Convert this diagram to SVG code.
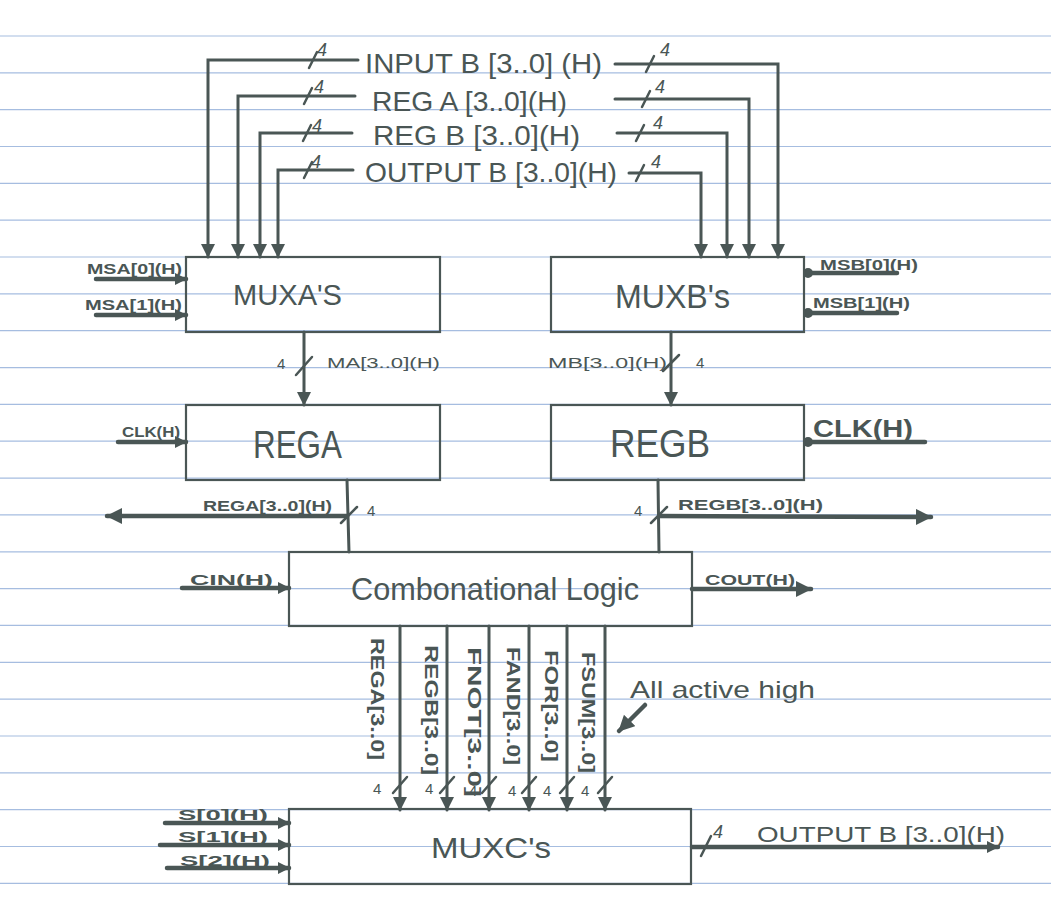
<svg xmlns="http://www.w3.org/2000/svg" width="1051" height="917" viewBox="0 0 1051 917">
<style>
.rule{stroke:#a6bde0;stroke-width:1.2}
.box{fill:none;stroke:#4a5655;stroke-width:2.2}
.w{fill:none;stroke:#4a5655;stroke-width:3;stroke-linecap:round;stroke-linejoin:miter}
.wt{fill:none;stroke:#4a5655;stroke-width:4.5;stroke-linecap:round}
.tick{stroke:#4a5655;stroke-width:2.5;stroke-linecap:round}
text{font-family:"Liberation Sans","DejaVu Sans",sans-serif;fill:#4a5655}
.lg{font-size:28px}
.sm{font-size:15px;font-weight:bold}
.n{font-size:15px}
.n4{font-size:18px;font-style:italic}
.vl{font-size:18px;font-weight:bold}
</style>
<defs>
<marker id="ah" markerUnits="userSpaceOnUse" markerWidth="16" markerHeight="16" refX="13" refY="7" orient="auto">
<path d="M0,0 L14,7 L0,14 z" fill="#4a5655"/>
</marker>
<marker id="ahs" markerUnits="userSpaceOnUse" markerWidth="14" markerHeight="14" refX="11" refY="6" orient="auto">
<path d="M0,0 L12,6 L0,12 z" fill="#4a5655"/>
</marker>
<marker id="ahb" markerUnits="userSpaceOnUse" markerWidth="18" markerHeight="18" refX="15" refY="8" orient="auto">
<path d="M0,0 L16,8 L0,16 z" fill="#4a5655"/>
</marker>
<marker id="dot" markerUnits="userSpaceOnUse" markerWidth="12" markerHeight="12" refX="6" refY="6" orient="auto">
<circle cx="6" cy="6" r="5" fill="#4a5655"/>
</marker>
</defs>
<rect width="1051" height="917" fill="#ffffff"/>
<g id="paper-rules">
<line class="rule" x1="0" y1="36" x2="1051" y2="36"/>
<line class="rule" x1="0" y1="72.8" x2="1051" y2="72.8"/>
<line class="rule" x1="0" y1="109.7" x2="1051" y2="109.7"/>
<line class="rule" x1="0" y1="146.5" x2="1051" y2="146.5"/>
<line class="rule" x1="0" y1="183.4" x2="1051" y2="183.4"/>
<line class="rule" x1="0" y1="220.2" x2="1051" y2="220.2"/>
<line class="rule" x1="0" y1="257" x2="1051" y2="257"/>
<line class="rule" x1="0" y1="293.9" x2="1051" y2="293.9"/>
<line class="rule" x1="0" y1="330.7" x2="1051" y2="330.7"/>
<line class="rule" x1="0" y1="367.6" x2="1051" y2="367.6"/>
<line class="rule" x1="0" y1="404.4" x2="1051" y2="404.4"/>
<line class="rule" x1="0" y1="441.2" x2="1051" y2="441.2"/>
<line class="rule" x1="0" y1="478.1" x2="1051" y2="478.1"/>
<line class="rule" x1="0" y1="514.9" x2="1051" y2="514.9"/>
<line class="rule" x1="0" y1="551.8" x2="1051" y2="551.8"/>
<line class="rule" x1="0" y1="588.6" x2="1051" y2="588.6"/>
<line class="rule" x1="0" y1="625.4" x2="1051" y2="625.4"/>
<line class="rule" x1="0" y1="662.3" x2="1051" y2="662.3"/>
<line class="rule" x1="0" y1="699.1" x2="1051" y2="699.1"/>
<line class="rule" x1="0" y1="736" x2="1051" y2="736"/>
<line class="rule" x1="0" y1="772.8" x2="1051" y2="772.8"/>
<line class="rule" x1="0" y1="809.6" x2="1051" y2="809.6"/>
<line class="rule" x1="0" y1="846.5" x2="1051" y2="846.5"/>
<line class="rule" x1="0" y1="883.3" x2="1051" y2="883.3"/>
</g>

<g id="connectors">
<path class="w" d="M358,60 H208 V257" marker-end="url(#ah)"/>
<path class="w" d="M355,96 H238 V257" marker-end="url(#ah)"/>
<path class="w" d="M352,133 H260 V257" marker-end="url(#ah)"/>
<path class="w" d="M353,170 H278 V257" marker-end="url(#ah)"/>
<path class="w" d="M615,64 H778 V257" marker-end="url(#ah)"/>
<path class="w" d="M615,99 H749 V257" marker-end="url(#ah)"/>
<path class="w" d="M617,133 H727 V257" marker-end="url(#ah)"/>
<path class="w" d="M629,173 H701 V257" marker-end="url(#ah)"/>
<line class="tick" x1="309" y1="68" x2="317" y2="52"/>
<line class="tick" x1="304" y1="104" x2="312" y2="88"/>
<line class="tick" x1="303" y1="141" x2="311" y2="125"/>
<line class="tick" x1="304" y1="178" x2="312" y2="162"/>
<line class="tick" x1="646" y1="72" x2="654" y2="56"/>
<line class="tick" x1="642" y1="107" x2="650" y2="91"/>
<line class="tick" x1="636" y1="141" x2="644" y2="125"/>
<line class="tick" x1="636" y1="181" x2="644" y2="165"/>
<line class="wt" x1="96" y1="279" x2="186" y2="279" marker-end="url(#ahs)"/>
<line class="wt" x1="96" y1="315" x2="186" y2="315" marker-end="url(#ahs)"/>
<line class="wt" x1="897" y1="273" x2="808" y2="273" marker-end="url(#dot)"/>
<line class="wt" x1="897" y1="313" x2="808" y2="313" marker-end="url(#dot)"/>
<line class="w" x1="304" y1="332" x2="304" y2="405" marker-end="url(#ah)"/>
<line class="tick" x1="296" y1="375" x2="312" y2="357"/>
<line class="w" x1="671" y1="332" x2="671" y2="405" marker-end="url(#ah)"/>
<line class="tick" x1="663" y1="371" x2="679" y2="355"/>
<line class="wt" x1="118" y1="442" x2="186" y2="442" marker-end="url(#ahs)"/>
<line class="wt" x1="925" y1="442" x2="808" y2="442" marker-end="url(#dot)"/>
<line class="w" x1="347" y1="480" x2="349" y2="552"/>
<line class="wt" x1="347" y1="516" x2="107" y2="516" marker-end="url(#ahb)"/>
<line class="tick" x1="341" y1="523" x2="357" y2="507"/>
<line class="w" x1="658" y1="480" x2="659" y2="552"/>
<line class="wt" x1="659" y1="516" x2="931" y2="517" marker-end="url(#ahb)"/>
<line class="tick" x1="651" y1="523" x2="667" y2="507"/>
<line class="wt" x1="182" y1="588" x2="289" y2="588" marker-end="url(#ahs)"/>
<line class="wt" x1="692" y1="589" x2="811" y2="589" marker-end="url(#ahb)"/>
<line class="w" x1="400" y1="626" x2="400" y2="810" marker-end="url(#ah)"/>
<line class="w" x1="447" y1="626" x2="447" y2="810" marker-end="url(#ah)"/>
<line class="w" x1="489" y1="626" x2="489" y2="810" marker-end="url(#ah)"/>
<line class="w" x1="529" y1="626" x2="529" y2="810" marker-end="url(#ah)"/>
<line class="w" x1="567" y1="626" x2="567" y2="810" marker-end="url(#ah)"/>
<line class="w" x1="605" y1="626" x2="605" y2="810" marker-end="url(#ah)"/>
<line class="tick" x1="393" y1="793" x2="407" y2="777"/>
<line class="tick" x1="440" y1="793" x2="454" y2="777"/>
<line class="tick" x1="482" y1="793" x2="496" y2="777"/>
<line class="tick" x1="522" y1="793" x2="536" y2="777"/>
<line class="tick" x1="560" y1="793" x2="574" y2="777"/>
<line class="tick" x1="598" y1="793" x2="612" y2="777"/>
<line class="wt" x1="645" y1="705" x2="619" y2="731" marker-end="url(#ahb)"/>
<line class="wt" x1="165" y1="823" x2="289" y2="823" marker-end="url(#ahs)"/>
<line class="wt" x1="160" y1="845" x2="289" y2="845" marker-end="url(#ahs)"/>
<line class="wt" x1="167" y1="868" x2="289" y2="868" marker-end="url(#ahs)"/>
<line class="wt" x1="692" y1="847" x2="998" y2="847" marker-end="url(#ahs)"/>
<line class="tick" x1="701" y1="856" x2="711" y2="836"/>
</g>

<g id="top-labels">
<text class="lg" x="365" y="73" textLength="237" lengthAdjust="spacingAndGlyphs">INPUT B [3..0] (H)</text>
<text class="lg" x="372" y="111" textLength="195" lengthAdjust="spacingAndGlyphs">REG A [3..0](H)</text>
<text class="lg" x="373" y="145" textLength="207" lengthAdjust="spacingAndGlyphs">REG B [3..0](H)</text>
<text class="lg" x="365" y="182" textLength="252" lengthAdjust="spacingAndGlyphs">OUTPUT B [3..0](H)</text>
<text class="n4" x="317" y="56">4</text>
<text class="n4" x="314" y="93">4</text>
<text class="n4" x="312" y="132">4</text>
<text class="n4" x="311" y="168">4</text>
<text class="n4" x="660" y="56">4</text>
<text class="n4" x="655" y="93">4</text>
<text class="n4" x="653" y="129">4</text>
<text class="n4" x="651" y="168">4</text>
</g>

<g id="muxa">
<rect class="box" x="186" y="257" width="254" height="75"/>
<text x="233" y="305" font-size="30" textLength="109" lengthAdjust="spacingAndGlyphs">MUXA'S</text>
<text class="sm" x="87" y="274" textLength="95" lengthAdjust="spacingAndGlyphs">MSA[0](H)</text>
<text class="sm" x="85" y="310" textLength="97" lengthAdjust="spacingAndGlyphs">MSA[1](H)</text>
</g>

<g id="muxb">
<rect class="box" x="551" y="257" width="253" height="75"/>
<text x="615" y="308" font-size="34" textLength="115" lengthAdjust="spacingAndGlyphs">MUXB's</text>
<text class="sm" x="820" y="270" textLength="98" lengthAdjust="spacingAndGlyphs">MSB[0](H)</text>
<text class="sm" x="813" y="308" textLength="97" lengthAdjust="spacingAndGlyphs">MSB[1](H)</text>
</g>

<g id="ma-label">
<text class="n" x="277" y="369" font-size="16">4</text>
<text class="n" x="327" y="368" font-size="16" textLength="113" lengthAdjust="spacingAndGlyphs">MA[3..0](H)</text>
</g>
<g id="mb-label">
<text class="n" x="548" y="368" font-size="16" textLength="119" lengthAdjust="spacingAndGlyphs">MB[3..0](H)</text>
<text class="n" x="696" y="368" font-size="16">4</text>
</g>

<g id="rega">
<rect class="box" x="186" y="405" width="254" height="75"/>
<text x="253" y="458" font-size="38" textLength="89" lengthAdjust="spacingAndGlyphs">REGA</text>
<text class="sm" x="122" y="437" textLength="58" lengthAdjust="spacingAndGlyphs">CLK(H)</text>
<text class="sm" x="203" y="511" textLength="129" lengthAdjust="spacingAndGlyphs">REGA[3..0](H)</text>
<text class="n" x="367" y="516" font-size="16">4</text>
</g>

<g id="regb">
<rect class="box" x="551" y="405" width="253" height="75"/>
<text x="610" y="457" font-size="38" textLength="100" lengthAdjust="spacingAndGlyphs">REGB</text>
<text x="813" y="437" font-size="24" font-weight="bold" textLength="100" lengthAdjust="spacingAndGlyphs">CLK(H)</text>
<text class="sm" x="678" y="510" textLength="145" lengthAdjust="spacingAndGlyphs">REGB[3..0](H)</text>
<text class="n" x="634" y="516" font-size="13">4</text>
</g>

<g id="comb-logic">
<rect class="box" x="289" y="552" width="403" height="74"/>
<text x="351" y="600" font-size="32" textLength="288" lengthAdjust="spacingAndGlyphs">Combonational Logic</text>
<text class="sm" x="190" y="585" font-size="16" textLength="83" lengthAdjust="spacingAndGlyphs">CIN(H)</text>
<text class="sm" x="705" y="585" font-size="16" textLength="90" lengthAdjust="spacingAndGlyphs">COUT(H)</text>
</g>

<g id="function-bus-labels">
<text class="vl" transform="translate(371,638) rotate(90)" textLength="122" lengthAdjust="spacingAndGlyphs">REGA[3..0]</text>
<text class="vl" transform="translate(425,645) rotate(90)" textLength="130" lengthAdjust="spacingAndGlyphs">REGB[3..0]</text>
<text class="vl" transform="translate(468,647) rotate(90)" textLength="150" lengthAdjust="spacingAndGlyphs">FNOT[3..0]</text>
<text class="vl" transform="translate(507,647) rotate(90)" textLength="118" lengthAdjust="spacingAndGlyphs">FAND[3..0]</text>
<text class="vl" transform="translate(545,650) rotate(90)" textLength="112" lengthAdjust="spacingAndGlyphs">FOR[3..0]</text>
<text class="vl" transform="translate(582,652) rotate(90)" textLength="121" lengthAdjust="spacingAndGlyphs">FSUM[3..0]</text>
<text class="n" x="373" y="794" font-size="14">4</text>
<text class="n" x="425" y="794" font-size="14">4</text>
<text class="n" x="469" y="796" font-size="14">4</text>
<text class="n" x="508" y="796" font-size="14">4</text>
<text class="n" x="543" y="796" font-size="14">4</text>
<text class="n" x="581" y="796" font-size="14">4</text>
<text x="630" y="698" font-size="24" textLength="185" lengthAdjust="spacingAndGlyphs">All active high</text>
</g>

<g id="muxc">
<rect class="box" x="289" y="809" width="402" height="75"/>
<text x="431" y="858" font-size="30" textLength="120" lengthAdjust="spacingAndGlyphs">MUXC's</text>
<text class="sm" x="178" y="820" font-size="16" textLength="90" lengthAdjust="spacingAndGlyphs">S[0](H)</text>
<text class="sm" x="178" y="842" font-size="16" textLength="90" lengthAdjust="spacingAndGlyphs">S[1](H)</text>
<text class="sm" x="180" y="866" font-size="16" textLength="90" lengthAdjust="spacingAndGlyphs">S[2](H)</text>
<text x="757" y="842" font-size="22" textLength="248" lengthAdjust="spacingAndGlyphs">OUTPUT B [3..0](H)</text>
<text class="n4" x="713" y="838">4</text>
</g>
</svg>
